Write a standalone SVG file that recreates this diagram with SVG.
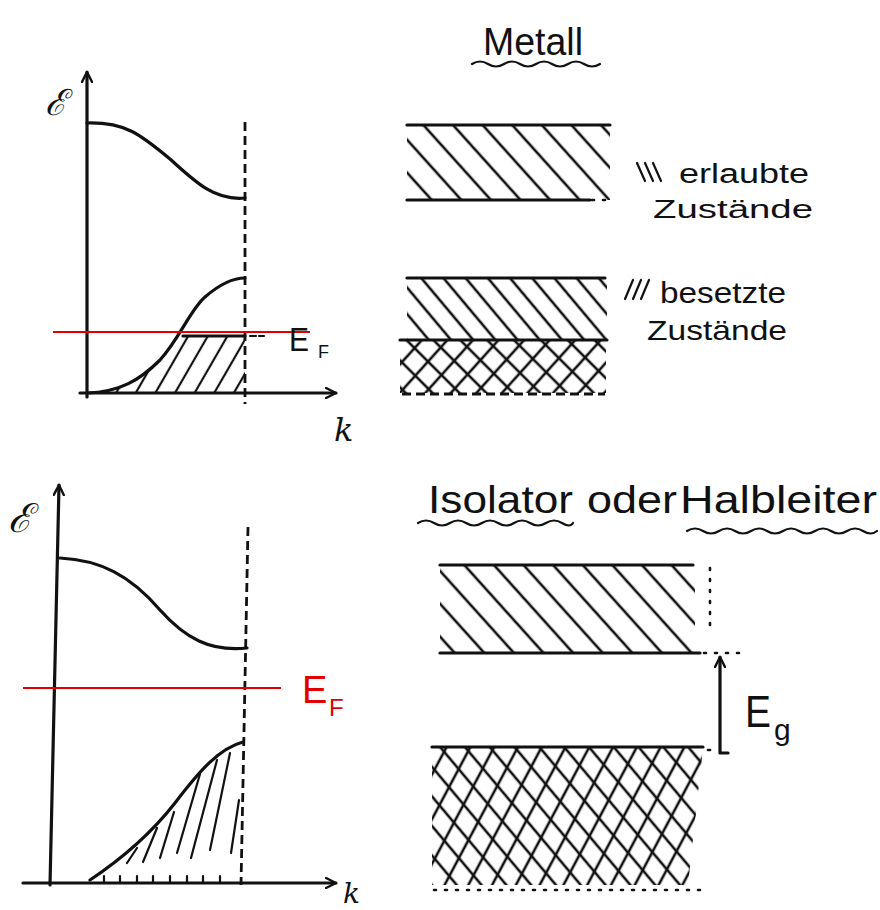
<svg xmlns="http://www.w3.org/2000/svg" width="880" height="910" viewBox="0 0 880 910">
<style>
.ink{fill:none;stroke:#111;stroke-width:3.2;stroke-linecap:round;stroke-linejoin:round}
.thin{fill:none;stroke:#111;stroke-width:2.2;stroke-linecap:round}
.dash{fill:none;stroke:#111;stroke-width:2.8;stroke-dasharray:9 5}
.dots{fill:none;stroke:#111;stroke-width:2.6;stroke-dasharray:2 9;stroke-linecap:round}
.red{stroke:#e00000;stroke-width:2;fill:none}
.hand{font-family:"Liberation Sans","Open Sans",sans-serif;fill:#111}
.sym{font-family:"DejaVu Serif","Liberation Serif",serif;font-style:italic;fill:#111}
.redt{font-family:"Liberation Sans","Open Sans",sans-serif;fill:#e00000}
</style>
<defs>
<marker id="arr" viewBox="0 0 12 12" refX="11" refY="6" markerWidth="12" markerHeight="12" markerUnits="userSpaceOnUse" orient="auto">
<path d="M1,1 L11,6 L1,11" fill="none" stroke="#111" stroke-width="2.4" stroke-linecap="round"/>
</marker>
<pattern id="hA" width="22" height="20" patternUnits="userSpaceOnUse" patternTransform="rotate(-42)"><line x1="11" y1="-2" x2="11" y2="22" stroke="#111" stroke-width="2.6"/></pattern>
<pattern id="hB" width="17" height="20" patternUnits="userSpaceOnUse" patternTransform="rotate(-40)"><line x1="8" y1="-2" x2="8" y2="22" stroke="#111" stroke-width="2.6"/></pattern>
<pattern id="xP" width="19" height="20" patternUnits="userSpaceOnUse" patternTransform="rotate(42)"><line x1="9" y1="-2" x2="9" y2="22" stroke="#111" stroke-width="2.6"/></pattern>
<pattern id="xM" width="19" height="20" patternUnits="userSpaceOnUse" patternTransform="rotate(-45)"><line x1="9" y1="-2" x2="9" y2="22" stroke="#111" stroke-width="2.6"/></pattern>
<pattern id="gP" width="21" height="20" patternUnits="userSpaceOnUse" patternTransform="rotate(28)"><line x1="10" y1="-2" x2="10" y2="22" stroke="#111" stroke-width="2.6"/></pattern>
<pattern id="gM" width="19" height="20" patternUnits="userSpaceOnUse" patternTransform="rotate(-40)"><line x1="9" y1="-2" x2="9" y2="22" stroke="#111" stroke-width="2.6"/></pattern>
<pattern id="fH" width="17" height="20" patternUnits="userSpaceOnUse" patternTransform="rotate(30)"><line x1="8" y1="-2" x2="8" y2="22" stroke="#111" stroke-width="2.2"/></pattern>
</defs>
<rect width="880" height="910" fill="#fff"/>

<g id="metal-plot">
<path class="ink" d="M87,397 L87,72" marker-end="url(#arr)"/>
<path class="ink" d="M80,393 L336,393" marker-end="url(#arr)"/>
<text class="sym" x="45" y="115" font-size="36">ℰ</text>
<text class="sym" x="334" y="441" font-size="32">k</text>
<line class="dash" x1="245" y1="122" x2="245" y2="404"/>
<path class="ink" d="M87,123 C125,122 140,134 170,159 C195,182 215,201 245,198"/>
<path d="M95,393 C120,392 140,380 160,360 C172,347 178,342 183,336 L245,336 L245,393 Z" fill="url(#fH)"/>
<path class="ink" d="M87,393 C120,392 140,380 160,360 C180,338 190,310 205,297 C220,284 232,278 245,278"/>
<line class="ink" x1="183" y1="336" x2="245" y2="336"/>
<line class="thin" x1="250" y1="336" x2="256" y2="336"/>
<line class="thin" x1="259" y1="336" x2="264" y2="336"/>
<line class="red" x1="53" y1="332" x2="310" y2="332"/>
<text class="hand" x="289" y="351" font-size="34" textLength="20" lengthAdjust="spacingAndGlyphs">E</text>
<text class="hand" x="318" y="358" font-size="18">F</text>
</g>

<g id="metal-bands">
<text class="hand" x="483" y="55" font-size="38" textLength="100" lengthAdjust="spacingAndGlyphs">Metall</text>
<path class="thin" d="M472,64 q8,-5 16,0 t16,0 t16,0 t16,0 t16,0 t16,0 t16,0 t16,0"/>
<rect x="407" y="125" width="203" height="75" fill="url(#hA)"/>
<line class="ink" x1="407" y1="125" x2="610" y2="125"/>
<line class="ink" x1="407" y1="200" x2="590" y2="200"/>
<line class="dots" x1="592" y1="200" x2="612" y2="200"/>
<rect x="407" y="278" width="200" height="62" fill="url(#hB)"/>
<rect x="400" y="340" width="206" height="53" fill="url(#xP)"/>
<rect x="400" y="340" width="206" height="53" fill="url(#xM)"/>
<line class="ink" x1="407" y1="278" x2="605" y2="278"/>
<line class="ink" x1="400" y1="340" x2="607" y2="340"/>
<line class="dash" x1="402" y1="394" x2="605" y2="394"/>
<g class="thin"><line x1="637" y1="163" x2="645" y2="181"/><line x1="645" y1="163" x2="653" y2="181"/><line x1="653" y1="163" x2="661" y2="181"/></g>
<text class="hand" x="679" y="183" font-size="27" textLength="130" lengthAdjust="spacingAndGlyphs">erlaubte</text>
<text class="hand" x="653" y="218" font-size="26" textLength="160" lengthAdjust="spacingAndGlyphs">Zustände</text>
<g class="thin"><line x1="633" y1="280" x2="625" y2="299"/><line x1="641" y1="280" x2="633" y2="299"/><line x1="649" y1="280" x2="641" y2="299"/></g>
<text class="hand" x="660" y="303" font-size="30" textLength="126" lengthAdjust="spacingAndGlyphs">besetzte</text>
<text class="hand" x="647" y="340" font-size="28" textLength="140" lengthAdjust="spacingAndGlyphs">Zustände</text>
</g>

<g id="insulator-plot">
<path class="ink" d="M50,885 L59,485" marker-end="url(#arr)"/>
<path class="ink" d="M23,883 L336,883" marker-end="url(#arr)"/>
<text class="sym" x="8" y="532" font-size="40">ℰ</text>
<text class="sym" x="343" y="903" font-size="28">k</text>
<line class="dash" x1="248" y1="527" x2="241" y2="885"/>
<path class="ink" d="M60,558 C100,560 130,575 160,610 C185,638 210,652 247,648"/>
<path class="ink" d="M90,880 C120,860 150,835 175,803 C200,770 220,748 243,742"/>
<g class="thin">
<line x1="127" y1="863" x2="137" y2="848"/>
<line x1="143" y1="862" x2="157" y2="828"/>
<line x1="160" y1="858" x2="174" y2="812"/>
<line x1="177" y1="853" x2="200" y2="774"/>
<line x1="191" y1="858" x2="217" y2="760"/>
<line x1="210" y1="850" x2="230" y2="753"/>
<line x1="231" y1="853" x2="239" y2="800"/>
<line x1="104" y1="876" x2="104" y2="883"/>
<line x1="120" y1="876" x2="120" y2="883"/>
<line x1="137" y1="876" x2="137" y2="883"/>
<line x1="153" y1="876" x2="153" y2="883"/>
<line x1="170" y1="876" x2="170" y2="883"/>
<line x1="187" y1="876" x2="187" y2="883"/>
<line x1="203" y1="876" x2="203" y2="883"/>
<line x1="220" y1="876" x2="220" y2="883"/>
</g>
<line class="red" x1="23" y1="688" x2="281" y2="688"/>
<text class="redt" x="302" y="703" font-size="38">E</text>
<text class="redt" x="329" y="716" font-size="24">F</text>
</g>

<g id="insulator-bands">
<text class="hand" x="428" y="513" font-size="38" textLength="145" lengthAdjust="spacingAndGlyphs">Isolator</text>
<text class="hand" x="587" y="513" font-size="38" textLength="90" lengthAdjust="spacingAndGlyphs">oder</text>
<text class="hand" x="680" y="513" font-size="38" textLength="197" lengthAdjust="spacingAndGlyphs">Halbleiter</text>
<path class="thin" d="M418,523 q8,-5 16,0 t16,0 t16,0 t16,0 t16,0 t16,0 t16,0 t16,0 t16,0 t11,0"/>
<path class="thin" d="M687,531 q8,-5 16,0 t16,0 t16,0 t16,0 t16,0 t16,0 t16,0 t16,0 t16,0 t16,0 t16,0 t14,0"/>
<rect x="440" y="565" width="255" height="88" fill="url(#hA)"/>
<line class="ink" x1="440" y1="565" x2="693" y2="565"/>
<line class="dots" x1="710" y1="568" x2="710" y2="630"/>
<line class="ink" x1="440" y1="653" x2="700" y2="653"/>
<line class="dots" x1="704" y1="653" x2="744" y2="653"/>
<path d="M432,747 L703,747 L688,885 L432,885 Z" fill="url(#gP)"/>
<path d="M432,747 L703,747 L688,885 L432,885 Z" fill="url(#gM)"/>
<line class="ink" x1="432" y1="747" x2="703" y2="747"/>
<line class="dots" x1="708" y1="750" x2="714" y2="750"/>
<line class="dots" x1="434" y1="890" x2="700" y2="890"/>
</g>

<g id="connectors">
<path class="ink" d="M728,753 L720,753 L720,657" marker-end="url(#arr)"/>
<text class="hand" x="745" y="727" font-size="44" textLength="26" lengthAdjust="spacingAndGlyphs">E</text>
<text class="hand" x="774" y="740" font-size="30">g</text>
</g>
</svg>
